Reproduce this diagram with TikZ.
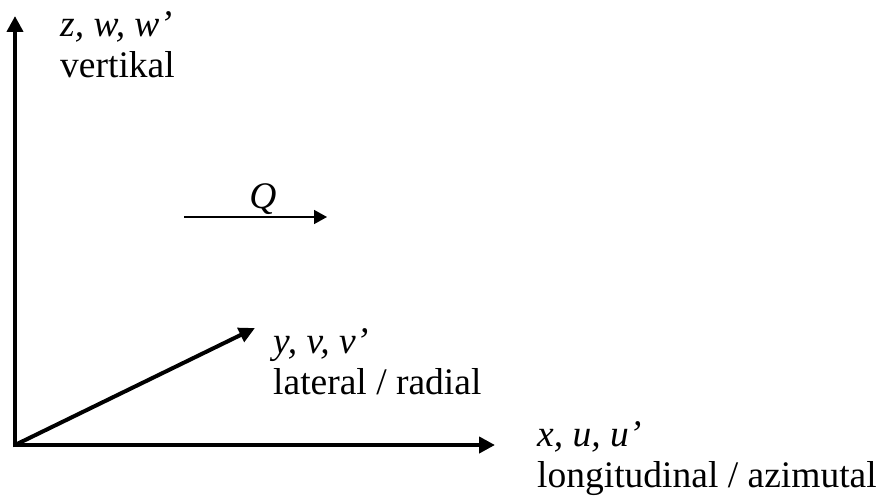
\documentclass[tikz,border=0pt]{standalone}
\usepackage{fontspec}
\setmainfont{Liberation Serif}
\usetikzlibrary{arrows.meta}
\begin{document}
\begin{tikzpicture}[x=1pt,y=-1pt,
  axis/.style={line width=4.5pt,-{Triangle[length=16pt,width=16pt]}},
  flow/.style={line width=1.5pt,-{Triangle[length=13pt,width=14pt]}},
  lbl/.style={anchor=base west,inner sep=0pt,font=\fontsize{37.5}{42}\selectfont}]
\useasboundingbox (0,0) rectangle (882,500);
\coordinate (O) at (15,445);
\coordinate (top) at (15,16);
\coordinate (right) at (495,445);
\coordinate (diag) at (255,328);
\coordinate (qs) at (184,217);
\coordinate (qe) at (327,217);
\draw[axis,shorten <=-2.25pt] (O) -- (top);
\draw[axis,shorten <=-2.25pt] (O) -- (right);
\draw[axis,line width=4pt,-{Triangle[length=16pt,width=15pt]}] (O) -- (diag);
\draw[flow] (qs) -- (qe);
\node[lbl,anchor=base] (q) at (263,208) {\textit{Q}};
\node[lbl] (zl) at (60,37) {\textit{z, w, w’}};
\node[lbl] (zt) at (60,78) {vertikal};
\node[lbl] (yl) at (273,353) {\textit{y, v, v’}};
\node[lbl] (yt) at (273,394) {lateral / radial};
\node[lbl] (xl) at (537,446) {\textit{x, u, u’}};
\node[lbl] (xt) at (537,487) {longitudinal / azimutal};
\end{tikzpicture}
\end{document}
